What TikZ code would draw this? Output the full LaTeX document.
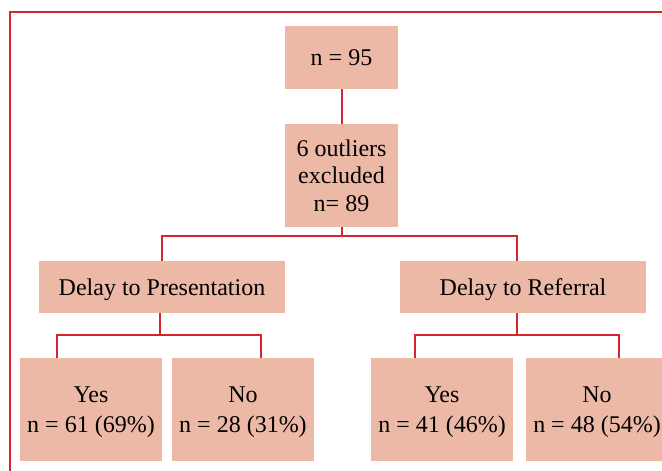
\documentclass[tikz,border=0pt]{standalone}
\usepackage{fontspec}
\setmainfont{Liberation Serif}
\usetikzlibrary{positioning,calc}
\definecolor{boxfill}{RGB}{237,185,167}
\definecolor{linkred}{RGB}{214,36,48}
\tikzset{
	box/.style={
		rectangle,
		fill=boxfill,
		inner sep=0pt,
		align=center,
		text depth=-1.5pt,
		font=\fontsize{12}{13.8}\selectfont,
	},
	leaf/.style={
		box,
		minimum width=71pt,
		minimum height=51.5pt,
		font=\fontsize{12}{15}\selectfont,
	},
	branch/.style={
		box,
		minimum width=123pt,
		minimum height=26pt,
	},
	link/.style={
		draw=linkred,
		line width=1pt,
	},
	frame/.style={
		draw=linkred,
		line width=0.8pt,
	}
}
\begin{document}
\begin{tikzpicture}[x=0.5pt,y=-0.5pt]
	\clip (0,0) rectangle (662,470);
	\draw[frame] (10,480) -- (10,12) -- (680,12);

	\node [
      box,
      minimum width=56.5pt,
      minimum height=31.5pt
    ] (all) at (341.5,57.5) {n = 95};
	\node [
      box,
      minimum width=56.5pt,
      minimum height=51.5pt
    ] (kept) at (341.5,175.5) {6 outliers\\excluded\\n= 89};

	\node [branch] (pres) at (162,287) {Delay to Presentation};
	\node [branch] (refr) at (523,287) {Delay to Referral};

	\node [leaf] (presyes) at (91,409.5) {Yes\\n = 61 (69\%)};
	\node [leaf] (presno) at (243,409.5) {No\\n = 28 (31\%)};
	\node [leaf] (refryes) at (442,409.5) {Yes\\n = 41 (46\%)};
	\node [leaf] (refrno) at (597,409.5) {No\\n = 48 (54\%)};

    \draw[link] (all) -- (kept);
    \draw[link] (kept.south) -- ++(0,9) -| (pres.north);
    \draw[link] (kept.south) -- ++(0,9) -| ([xshift=-3pt]refr.north);

    \draw[link] ([xshift=-1pt]pres.south) -- ++(0,22) -| ([xshift=-52.5pt]pres.south |- presyes.north);
    \draw[link] ([xshift=-1pt]pres.south) -- ++(0,22) -| ([xshift=49.5pt]pres.south |- presno.north);
    \draw[link] ([xshift=-3pt]refr.south) -- ++(0,22) -| ([xshift=-54pt]refr.south |- refryes.north);
    \draw[link] ([xshift=-3pt]refr.south) -- ++(0,22) -| ([xshift=48pt]refr.south |- refrno.north);
\end{tikzpicture}
\end{document}
